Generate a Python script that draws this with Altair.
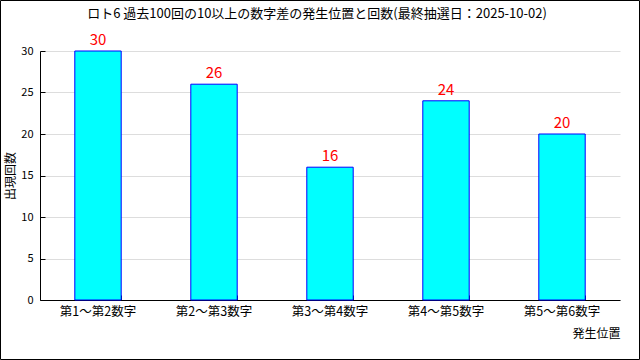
import altair as alt
import pandas as pd

categories = ["第1～第2数字", "第2～第3数字", "第3～第4数字", "第4～第5数字", "第5～第6数字"]
counts = [30, 26, 16, 24, 20]
y_ticks = [0, 5, 10, 15, 20, 25, 30]
title_text = ["ロト6 過去100回の10以上の数字差の発生位置と回数(最終抽選日：2025-10-02)"]

df = pd.DataFrame({"pos": categories, "count": counts})

FONT = "Noto Sans CJK JP"
W, H = 580, 249

xscale = alt.Scale(domain=categories, paddingInner=0.6, paddingOuter=0.3)
yscale = alt.Scale(domain=[0, 30], nice=False)

base = alt.Chart(df)

bars = base.mark_bar(color="#00FFFF", stroke="#0000FF", strokeWidth=1).encode(
    x=alt.X("pos:N", scale=xscale, sort=categories,
            axis=alt.Axis(title="発生位置", orient="bottom", labelAngle=0, labelFont=FONT,
                          labelFontSize=12.5, labelColor="black", labelPadding=5, ticks=False,
                          domainColor="black", titleFont=FONT, titleFontSize=12,
                          titleFontWeight="normal", titleColor="black", titleX=W, titleY=33,
                          titleAlign="right", titleBaseline="middle", grid=False)),
    y=alt.Y("count:Q", scale=yscale,
            axis=alt.Axis(title="出現回数", values=y_ticks, grid=True, gridColor="#dddddd",
                          ticks=False, labelPadding=7, labelFont=FONT, labelFontSize=11,
                          labelColor="black", domainColor="black", titleFont=FONT,
                          titleFontSize=12, titleFontWeight="normal", titleColor="black",
                          titleX=-30, titleY=H / 2, titleAngle=270, titleAlign="center",
                          titleBaseline="middle")),
)

labels = base.mark_text(color="#FF0000", fontSize=15, font=FONT, dy=-3, baseline="bottom").encode(
    x=alt.X("pos:N", scale=xscale, sort=categories,
            axis=alt.Axis(orient="top", offset=-H, labels=False, title="", domain=False,
                          ticks=True, tickSize=5, tickColor="black", tickBand="extent", grid=False)),
    y=alt.Y("count:Q", scale=yscale,
            axis=alt.Axis(orient="right", offset=-W, values=y_ticks, labels=False, title="",
                          domain=False, ticks=True, tickSize=5, tickColor="black", grid=False)),
    text="count:Q",
)

title = alt.Chart(pd.DataFrame({"t": title_text})).mark_text(
    font=FONT, fontSize=13, color="black", align="center", baseline="middle"
).encode(text="t:N", x=alt.value(W / 2 - 13), y=alt.value(-37))

border = alt.Chart(pd.DataFrame({"b": [0]})).mark_rect(filled=False, stroke="black", strokeWidth=1).encode(
    x=alt.value(-39.5), x2=alt.value(599.5), y=alt.value(-50.5), y2=alt.value(308.5)
)

chart = alt.layer(bars, labels, title, border).resolve_axis(x="independent", y="independent").properties(
    width=W, height=H,
    autosize=alt.AutoSizeParams(type="none"),
    padding={"left": 40, "top": 51, "right": 20, "bottom": 60},
    background="white",
).configure_view(strokeWidth=0)

chart.save("out.html", embed_options={"renderer": "svg", "actions": False})
